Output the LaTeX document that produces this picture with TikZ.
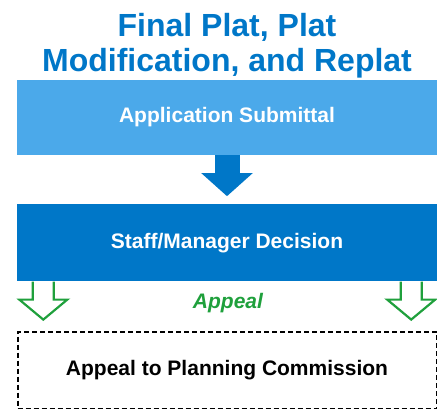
\documentclass[tikz,border=0pt]{standalone}
\usepackage{fontspec}
\setmainfont{Liberation Sans}
\usepackage{xcolor}
\usepackage{tikz}
\usetikzlibrary{arrows.meta,positioning,calc}
\definecolor{lightblue}{HTML}{4BA9EA}
\definecolor{darkblue}{HTML}{0077C8}
\definecolor{appealgreen}{HTML}{1FA03C}

\begin{document}
\begin{tikzpicture}[
    x=1pt, y=1pt,
    node distance=49pt,
    stagebox/.style={rectangle, minimum width=420pt, minimum height=76pt,
                inner sep=0pt, align=center, text=white,
                font=\fontsize{21}{25}\selectfont\bfseries},
    commbox/.style={rectangle, draw, dash pattern=on 5pt off 3pt, line width=2pt,
                minimum width=419pt, minimum height=77pt, inner sep=0pt,
                font=\fontsize{21}{25}\selectfont\bfseries},
    flowarrow/.style={darkblue, line width=25pt, -{Triangle[width=50pt,length=23pt]}},
    appealarrow/.style={draw=appealgreen, line width=2.2pt, line join=miter}
]
\useasboundingbox (0,0) rectangle (437,-409);

% Title
\node[align=center, text=darkblue, anchor=base,
      font=\fontsize{32}{35}\selectfont\bfseries] (title) at (227,-72)
      {Final Plat, Plat\\Modification, and Replat};

% Nodes
\node[stagebox, fill=lightblue, minimum height=75pt] (app) at (227,-117.5) {Application Submittal};
\node[stagebox, fill=darkblue, minimum height=77pt, below=49pt of app] (dec) {Staff/Manager Decision};
\node[commbox, below=49pt of dec] (comm) {Appeal to Planning Commission};
\node[text=appealgreen, font=\fontsize{21}{25}\selectfont\bfseries\itshape] (appeal) at (228,-303) {Appeal};

% Arrows
\draw[flowarrow] (app.south) -- ([yshift=8pt]dec.north);
\coordinate (lefttail) at ([xshift=26.5pt]dec.south west);
\coordinate (righttail) at ([xshift=-26pt]dec.south east);
\foreach \c in {lefttail,righttail}
  \draw[appealarrow] ($(\c)+(-10.5,0)$) -- ++(0,-18) -- ++(-13.5,0) -- ++(24,-20)
        -- ++(24,20) -- ++(-13.5,0) -- ++(0,18);
\end{tikzpicture}
\end{document}
